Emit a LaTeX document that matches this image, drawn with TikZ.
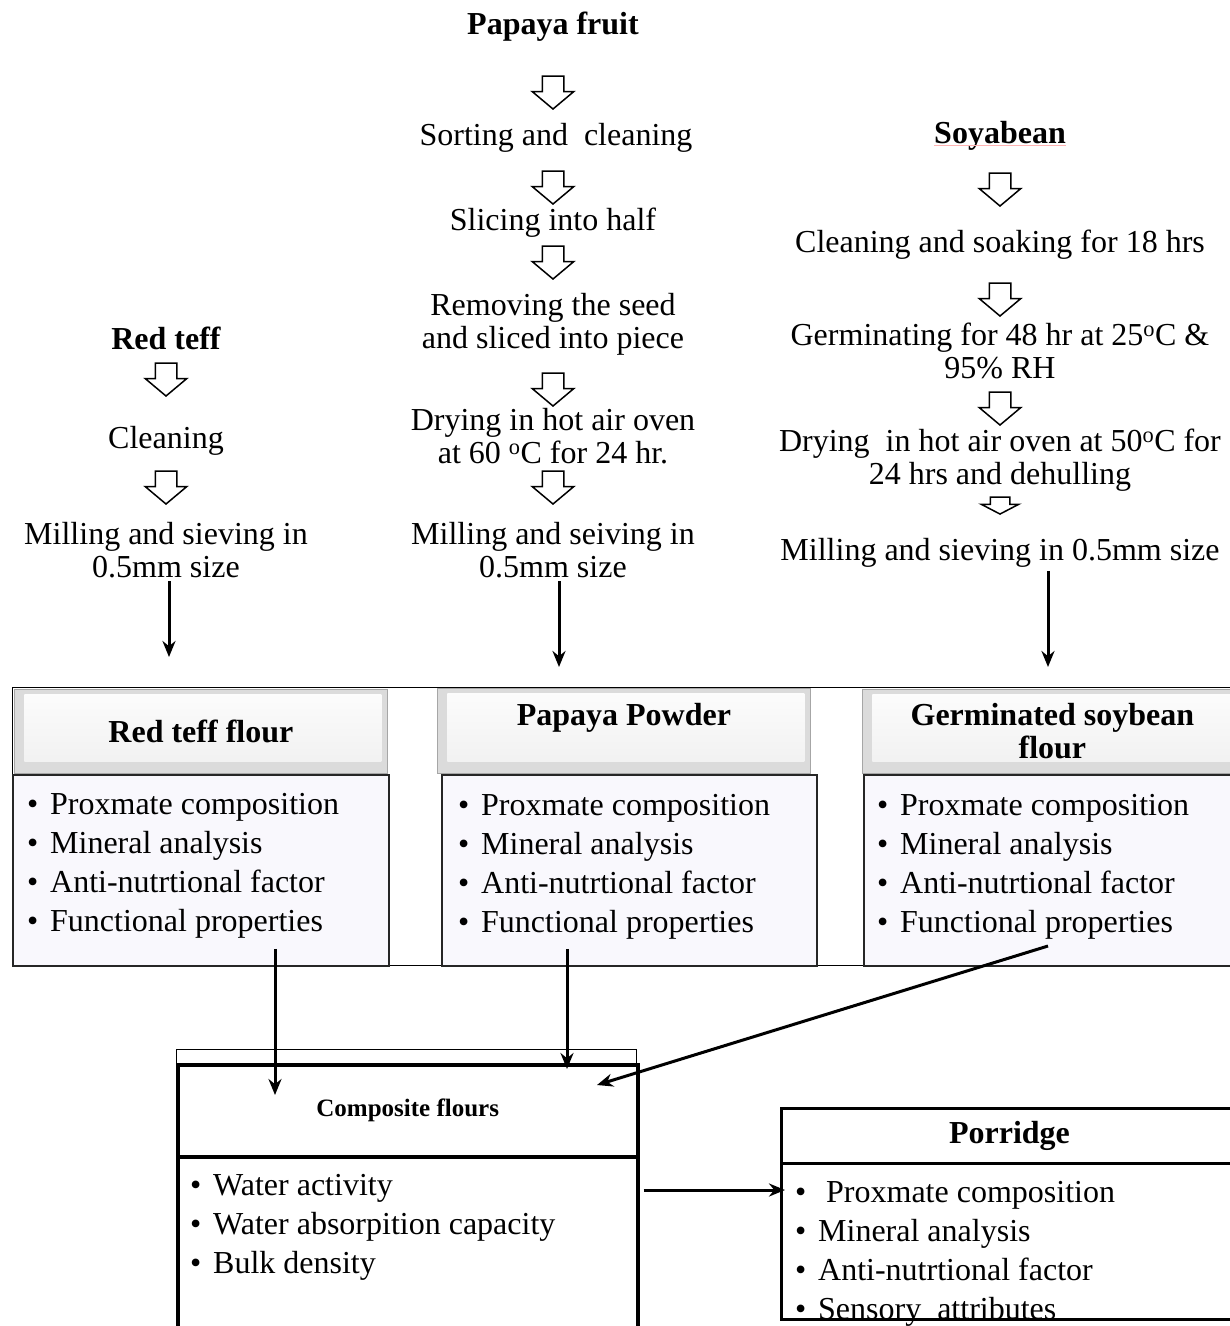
\documentclass[tikz,border=0pt]{standalone}
\usepackage{fontspec}
\setmainfont{Liberation Serif}
\usetikzlibrary{shapes.arrows}
\usetikzlibrary{arrows.meta}
\definecolor{listbg}{RGB}{249,248,253}

\newcommand{\degC}{\textsuperscript{o}C}
\newcommand{\bul}{\makebox[23pt][l]{\textbullet}}

\begin{document}
\begin{tikzpicture}[x=1pt,y=-1pt,
    proc/.style={align=center,inner sep=0pt,yshift=-3pt,font=\fontsize{32}{33}\selectfont},
    ttl/.style={align=center,inner sep=0pt,yshift=-3pt,font=\fontsize{32}{33}\selectfont\bfseries},
    hollow/.style={single arrow,draw,line width=1.5pt,fill=white,rotate=-90,inner xsep=0pt,inner ysep=10pt,
        minimum height=33pt,single arrow head extend=10pt,single arrow tip angle=100},
    flow/.style={line width=3pt,-{Stealth[length=16pt,width=13pt]}},
    lst/.style={align=left,inner sep=0pt,anchor=north west,font=\fontsize{32}{39}\selectfont},
    hdbox/.style={anchor=north west,draw=gray!70,line width=0.8pt,fill=gray!28,inner sep=0pt,
        align=center,font=\fontsize{32}{33}\selectfont\bfseries,
        path picture={\shade[top color=gray!2,bottom color=gray!12]
          ([shift={(10pt,-5pt)}]path picture bounding box.north west) rectangle
          ([shift={(-6pt,12pt)}]path picture bounding box.south east);}},
    bodybox/.style={anchor=north west,draw=black!85,line width=1.8pt,fill=listbg,inner sep=0pt},
    thickbox/.style={anchor=north west,draw,line width=3.5pt,inner sep=0pt}
  ]
    \useasboundingbox (0,0) rectangle (1230,1326);

    % 木瓜
    \node[ttl] (ppT) at (553,24) {Papaya fruit};
    \node[hollow] (ppA1) at (553,88) {};
    \node[proc] (ppSort) at (556,135) {Sorting and~ cleaning};
    \node[hollow] (ppA2) at (553,183) {};
    \node[proc] (ppSlice) at (553,220) {Slicing into half};
    \node[hollow] (ppA3) at (553,258) {};
    \node[proc] (ppSeed) at (553,321) {Removing the seed\\and sliced into piece};
    \node[hollow] (ppA4) at (553,385) {};
    \node[proc] (ppDry) at (553,433) {Drying in hot air oven\\at 60 \degC{} for 24 hr.};
    \node[hollow] (ppA5) at (553,483) {};
    \node[proc] (ppMill) at (553,547) {Milling and seiving in\\0.5mm size};

    % 红苔麸
    \node[ttl] (tT) at (166,335) {Red teff};
    \node[hollow] (tA1) at (166,375) {};
    \node[proc] (tClean) at (166,438) {Cleaning};
    \node[hollow] (tA2) at (166,483) {};
    \node[proc] (tMill) at (166,547) {Milling and sieving in\\0.5mm size};

    % 大豆
    \node[ttl] (sT) at (1000,133) {Soyabean};
    \draw[red!30,line width=0.6pt] ([yshift=-2pt]sT.base west) -- ([yshift=-2pt]sT.base east);
    \node[hollow] (sA1) at (1000,185) {};
    \node[proc] (sSoak) at (1000,242) {Cleaning and soaking for 18 hrs};
    \node[hollow] (sA2) at (1000,295) {};
    \node[proc] (sGerm) at (1000,348) {Germinating for 48 hr at 25\degC{} \&\\95\% RH};
    \node[hollow] (sA3) at (1000,404) {};
    \node[proc] (sDry) at (1000,457) {Drying~ in hot air oven at 50\degC{} for\\24 hrs and dehulling};
    \node[hollow,minimum height=17pt,inner ysep=9pt,single arrow head extend=9pt,single arrow tip angle=125] (sA4) at (1000,503) {};
    \node[proc] (sMill) at (1000,550) {Milling and sieving in 0.5mm size};

    \coordinate (tEnd) at (169,657);
    \coordinate (ppEnd) at (559,667);
    \coordinate (sEnd) at (1048,667);
    \draw[flow,shorten <=3pt] (tMill.south -| tEnd) -- (tEnd);
    \draw[flow,shorten <=3pt] (ppMill.south -| ppEnd) -- (ppEnd);
    \draw[flow,shorten <=3pt] (sMill.south -| sEnd) -- (sEnd);

    % 三种粉
    \draw[line width=0.9pt] (12,687) rectangle (1245,965);

    \node[hdbox,minimum width=373pt,minimum height=84pt] (tHd) at (14,689) {Red teff flour};
    \node[bodybox,minimum width=376pt,minimum height=191pt] (tBody) at (12,774) {};
    \node[lst] (tList) at (27,793) {\bul Proxmate composition\\\bul Mineral analysis\\\bul Anti-nutrtional factor\\\bul Functional properties};

    \node[hdbox,minimum width=373pt,minimum height=85pt,text depth=34pt] (ppHd) at (437,688) {Papaya Powder};
    \node[bodybox,minimum width=375pt,minimum height=191pt] (ppBody) at (441,774) {};
    \node[lst] (ppList) at (458,794) {\bul Proxmate composition\\\bul Mineral analysis\\\bul Anti-nutrtional factor\\\bul Functional properties};

    \node[hdbox,minimum width=380pt,minimum height=84pt] (sHd) at (862,689) {Germinated soybean\\flour};
    \node[bodybox,minimum width=380pt,minimum height=191pt] (sBody) at (863,774) {};
    \node[lst] (sList) at (877,794) {\bul Proxmate composition\\\bul Mineral analysis\\\bul Anti-nutrtional factor\\\bul Functional properties};

    % 复合粉
    \node[draw,line width=1.2pt,minimum width=460pt,minimum height=14pt,anchor=north west,inner sep=0pt] (cCap) at (176,1049) {};
    \node[thickbox,minimum width=460pt,minimum height=92pt,font=\fontsize{25}{28}\selectfont\bfseries] (cHd) at (176,1063) {Composite flours};
    \node[thickbox,minimum width=460pt,minimum height=190pt] (cBody) at (176,1155) {};
    \node[lst] (cList) at (190,1174) {\bul Water activity\\\bul Water absorpition capacity\\\bul Bulk density};

    \coordinate (cInT) at (275,1095);
    \coordinate (cInP) at (567,1069);
    \coordinate (sOut) at (1048,946);
    \coordinate (cInS) at (597,1085);
    \draw[flow,shorten <=-18pt] (tBody.south -| cInT) -- (cInT);
    \draw[flow,shorten <=-18pt] (ppBody.south -| cInP) -- (cInP);
    \draw[flow] (sOut) -- (cInS);

    % 粥
    \node[thickbox,line width=3pt,minimum width=456pt,minimum height=55pt,font=\fontsize{32}{33}\selectfont\bfseries] (pHd) at (780,1107) {Porridge};
    \node[thickbox,line width=3pt,minimum width=456pt,minimum height=156pt] (pBody) at (780,1162) {};
    \node[lst] (pList) at (795,1181) {\bul\ Proxmate composition\\\bul Mineral analysis\\\bul Anti-nutrtional factor\\\bul Sensory~ attributes};

    \coordinate (pIn) at (785,1190);
    \draw[flow,shorten <=4pt] (cBody.east |- pIn) -- (pIn);
\end{tikzpicture}
\end{document}
